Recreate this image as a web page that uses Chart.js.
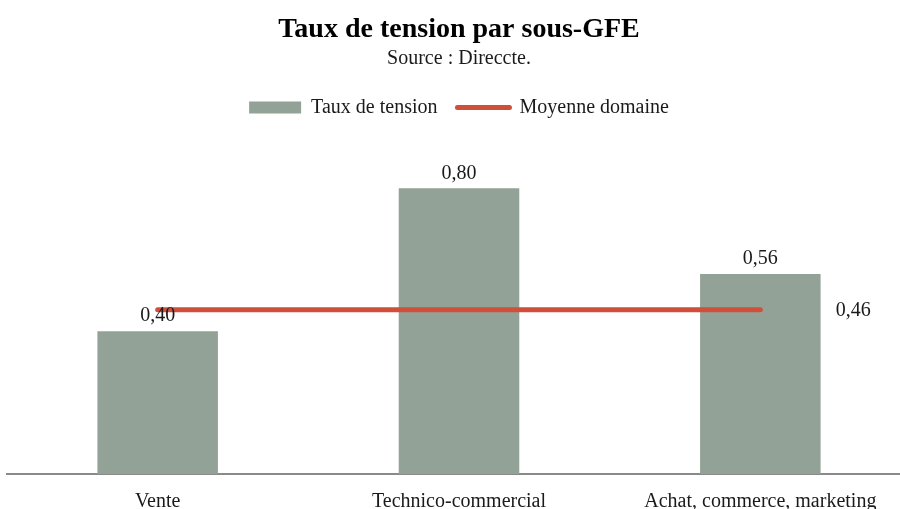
<!DOCTYPE html>
<html><head><meta charset="utf-8">
<script src="https://cdn.jsdelivr.net/npm/chart.js@4/dist/chart.umd.min.js"></script>
<style>
html,body{margin:0;padding:0;background:#fff;overflow:hidden;width:900px;height:509px;}
#wrap{position:absolute;left:0;top:0;width:911px;height:530px;}
</style></head>
<body>
<div id="wrap"><canvas id="c"></canvas></div>
<script>
const categories = ["Vente", "Technico-commercial", "Achat, commerce, marketing"];
const tauxTension = [0.40, 0.80, 0.56];
const moyenneDomaine = [0.46, 0.46, 0.46];
const titleText = "Taux de tension par sous-GFE";
const subtitleText = "Source : Direccte.";

const FONT = "'Liberation Serif', 'DejaVu Serif', serif";
const fmt = v => v.toFixed(2).replace('.', ',');

const labelPlugin = {
  id: 'valueLabels',
  afterDatasetsDraw(chart) {
    const ctx = chart.ctx;
    ctx.save();
    ctx.font = "20px " + FONT;
    ctx.fillStyle = "#1a1a1a";
    ctx.textAlign = "center";
    ctx.textBaseline = "bottom";
    const barMeta = chart.getDatasetMeta(0);
    barMeta.data.forEach((el, i) => {
      ctx.fillText(fmt(chart.data.datasets[0].data[i]), el.x, el.y - 5);
    });
    const lineMeta = chart.getDatasetMeta(1);
    const last = lineMeta.data[lineMeta.data.length - 1];
    ctx.textBaseline = "middle";
    ctx.fillText(fmt(chart.data.datasets[1].data[lineMeta.data.length - 1]), last.x + 93, last.y + 1);
    ctx.restore();
  }
};

new Chart(document.getElementById('c'), {
  type: 'bar',
  data: {
    labels: categories,
    datasets: [
      { type: 'bar', label: 'Taux de tension', data: tauxTension, backgroundColor: '#93A297',
        borderWidth: 0, barPercentage: 0.8, categoryPercentage: 0.5, order: 2 },
      { type: 'line', label: 'Moyenne domaine', data: moyenneDomaine, borderColor: '#D04F3B',
        backgroundColor: '#D04F3B', borderWidth: 5, borderCapStyle: 'round', pointRadius: 0,
        pointHoverRadius: 0, fill: false, tension: 0, order: 1 }
    ]
  },
  options: {
    responsive: true,
    maintainAspectRatio: false,
    animation: false,
    layout: { padding: { left: 7, right: 0, top: 0, bottom: 0 } },
    plugins: {
      title: { display: true, text: titleText, color: '#000', font: { family: FONT, size: 28, weight: 'bold' },
        padding: { top: 13, bottom: 0 } },
      subtitle: { display: true, text: subtitleText, color: '#1a1a1a', font: { family: FONT, size: 20 },
        padding: { top: 0, bottom: 7 } },
      legend: { display: true, position: 'top',
        labels: { usePointStyle: true, pointStyleWidth: 52, boxHeight: 12, color: '#1a1a1a',
          font: { family: FONT, size: 20 }, padding: 20,
          sort: (a, b) => a.datasetIndex - b.datasetIndex,
          generateLabels(chart) {
            const items = Chart.defaults.plugins.legend.labels.generateLabels(chart);
            items.forEach(it => {
              if (it.datasetIndex === 0) {
                it.pointStyle = 'rect'; it.lineWidth = 0;
                it.fillStyle = '#93A297'; it.strokeStyle = '#93A297';
              } else {
                it.pointStyle = 'line'; it.lineWidth = 5; it.lineCap = 'round';
                it.fillStyle = '#D04F3B'; it.strokeStyle = '#D04F3B';
              }
            });
            return items;
          } } },
      tooltip: { enabled: false }
    },
    scales: {
      x: { grid: { display: false, drawTicks: false },
        border: { display: true, color: '#8a8a8a', width: 2 },
        ticks: { color: '#1a1a1a', font: { family: FONT, size: 20 }, padding: 16, maxRotation: 0, autoSkip: false } },
      y: { display: false, min: 0, max: 0.97 }
    }
  },
  plugins: [labelPlugin]
});
</script>
</body></html>
